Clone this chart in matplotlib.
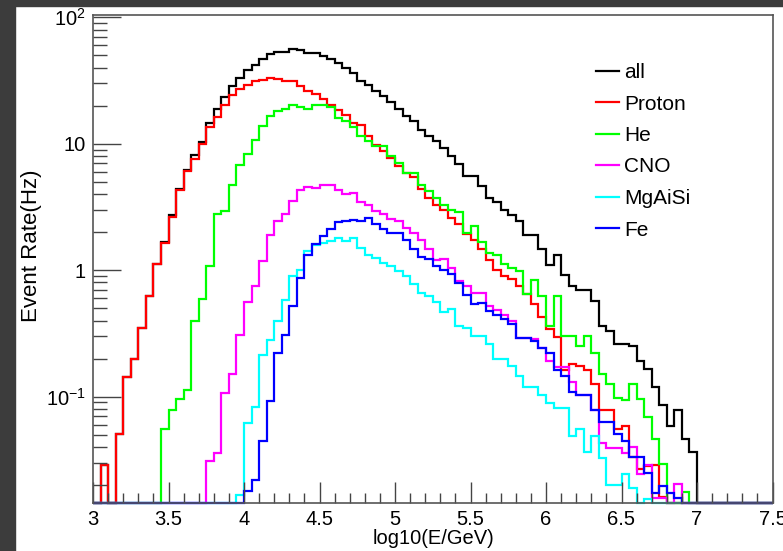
import matplotlib
matplotlib.use("Agg")
import matplotlib.pyplot as plt
import numpy as np
from matplotlib.patches import Rectangle
from matplotlib.ticker import FixedLocator, FixedFormatter, MultipleLocator, NullFormatter

plt.rcParams['font.family'] = ['Liberation Sans', 'DejaVu Sans']
plt.rcParams['mathtext.fontset'] = 'custom'
plt.rcParams['mathtext.rm'] = 'Liberation Sans'
plt.rcParams['mathtext.it'] = 'Liberation Sans'

# histogram binning: log10(E/GeV) from 3 to 7.5, 0.05 wide bins
bin_lo, bin_hi, n_bins = 3.0, 7.5, 90

# event rates (Hz) per bin
all_rate = [0, 0.029, 0, 0.051, 0.143, 0.20, 0.35, 0.62, 1.13, 1.68,
            2.71, 4.4, 6.25, 8.1, 10.3, 14.6, 18.9, 23.4, 28.8, 33.2,
            38.2, 42.3, 46.9, 51.4, 53.3, 53.3, 56.3, 54.9, 52.3, 52.3,
            49.8, 46.9, 43.6, 39.8, 36.3, 31.2, 29.4, 26.0, 24.0, 21.3,
            18.9, 16.7, 15.1, 12.9, 11.5, 10.5, 9.27, 7.97, 6.97, 5.53,
            5.53, 4.61, 3.73, 3.45, 3.02, 2.71, 2.44, 1.91, 1.91, 1.48,
            1.11, 1.33, 0.925, 0.757, 0.704, 0.704, 0.569, 0.361, 0.33, 0.259,
            0.259, 0.25, 0.193, 0.166, 0.12, 0.0867, 0.0592, 0.0778, 0.0467, 0.0364,
            0, 0, 0, 0, 0, 0, 0, 0, 0, 0]

proton = [0, 0.029, 0, 0.051, 0.143, 0.20, 0.35, 0.62, 1.13, 1.63,
          2.64, 4.29, 6.1, 7.64, 10.0, 13.5, 16.2, 20.1, 24.2, 27.2,
          29.4, 31.2, 32.2, 33.0, 32.6, 31.2, 31.2, 28.8, 26.0, 24.9,
          22.4, 20.4, 18.4, 17.0, 14.6, 14.2, 11.6, 9.86, 8.73, 7.73,
          6.64, 5.89, 5.47, 4.35, 3.73, 3.3, 3.0, 2.6, 2.3, 1.95,
          1.72, 1.46, 1.21, 1.01, 0.908, 0.855, 0.747, 0.643, 0.536, 0.428,
          0.340, 0.298, 0.164, 0.180, 0.174, 0.164, 0.125, 0.079, 0.079, 0.056,
          0.059, 0.0335, 0.0266, 0.0285, 0.029, 0.016, 0, 0, 0, 0,
          0, 0, 0, 0, 0, 0, 0, 0, 0, 0]

helium = [0, 0, 0, 0, 0, 0, 0, 0, 0, 0.056,
          0.078, 0.096, 0.112, 0.40, 0.594, 1.08, 2.79, 2.93, 4.70, 6.85,
          8.3, 10.8, 13.7, 16.5, 18.1, 18.9, 20.1, 19.5, 18.9, 20.1,
          20.1, 19.5, 16.0, 15.1, 13.6, 11.6, 10.5, 9.68, 9.68, 8.07,
          7.06, 5.89, 5.89, 4.76, 4.21, 3.73, 3.3, 3.0, 2.87, 1.98,
          2.23, 1.66, 1.36, 1.33, 1.13, 1.05, 0.98, 0.643, 0.844, 0.623,
          0.361, 0.623, 0.301, 0.301, 0.25, 0.301, 0.223, 0.15, 0.125, 0.097,
          0.095, 0.125, 0.096, 0.069, 0.0465, 0.0295, 0, 0, 0.0176, 0,
          0, 0, 0, 0, 0, 0, 0, 0, 0, 0]

cno = [0, 0, 0, 0, 0, 0, 0, 0, 0, 0,
       0, 0, 0, 0, 0, 0.031, 0.036, 0.107, 0.15, 0.31,
       0.559, 0.757, 1.19, 1.91, 2.44, 2.76, 3.51, 4.34, 4.56, 4.48,
       4.76, 4.76, 4.34, 4.04, 4.08, 3.45, 3.31, 2.93, 2.76, 2.55,
       2.44, 2.16, 1.98, 1.72, 1.46, 1.21, 1.22, 1.04, 0.82, 0.75,
       0.663, 0.663, 0.526, 0.489, 0.446, 0.395, 0.292, 0.292, 0.284, 0.244,
       0.191, 0.172, 0.172, 0.13, 0.104, 0.104, 0.079, 0.043, 0.0394, 0.0394,
       0.036, 0.040, 0.0243, 0.029, 0.0159, 0.0159, 0, 0.0205, 0, 0,
       0, 0, 0, 0, 0, 0, 0, 0, 0, 0]

mgalsi = [0, 0, 0, 0, 0, 0, 0, 0, 0, 0,
          0, 0, 0, 0, 0, 0, 0, 0, 0, 0.0166,
          0.062, 0.0826, 0.213, 0.283, 0.395, 0.587, 0.897, 1.01, 1.41, 1.57,
          1.65, 1.70, 1.80, 1.70, 1.80, 1.50, 1.31, 1.25, 1.14, 1.08,
          0.98, 0.897, 0.785, 0.663, 0.63, 0.558, 0.466, 0.496, 0.361, 0.350,
          0.301, 0.301, 0.259, 0.199, 0.199, 0.174, 0.145, 0.12, 0.12, 0.104,
          0.0895, 0.0817, 0.0817, 0.0487, 0.0557, 0.0364, 0.0487, 0.0329, 0.0199, 0.0199,
          0.0243, 0.019, 0, 0.0156, 0, 0, 0, 0, 0, 0,
          0, 0, 0, 0, 0, 0, 0, 0, 0, 0]

iron = [0, 0, 0, 0, 0, 0, 0, 0, 0, 0,
        0, 0, 0, 0, 0, 0, 0, 0, 0, 0,
        0.018, 0.0218, 0.0445, 0.092, 0.22, 0.306, 0.526, 0.871, 1.31, 1.60,
        1.86, 2.12, 2.40, 2.44, 2.48, 2.47, 2.57, 2.34, 2.12, 1.98,
        1.98, 1.75, 1.46, 1.28, 1.23, 1.08, 1.01, 0.94, 0.795, 0.64,
        0.54, 0.55, 0.474, 0.446, 0.408, 0.373, 0.292, 0.292, 0.275, 0.243,
        0.222, 0.164, 0.146, 0.109, 0.104, 0.104, 0.079, 0.063, 0.063, 0.051,
        0.045, 0.0335, 0.0335, 0.025, 0.0172, 0.0196, 0.0172, 0.0159, 0, 0,
        0, 0, 0, 0, 0, 0, 0, 0, 0, 0]

labels = ['all', 'Proton', 'He', 'CNO', 'MgAiSi', 'Fe']
colors = ['#000000', '#ff0000', '#00ff00', '#ff00ff', '#00ffff', '#0000ff']
series = [all_rate, proton, helium, cno, mgalsi, iron]

x_ticks = [3, 3.5, 4, 4.5, 5, 5.5, 6, 6.5, 7, 7.5]
x_ticklabels = ['3', '3.5', '4', '4.5', '5', '5.5', '6', '6.5', '7', '7.5']
y_ticks = [0.1, 1, 10, 100]
y_ticklabels = [r'$10^{-1}$', '1', '10', r'$10^{2}$']

y_min, y_max = 0.01436, 104.3

fig = plt.figure(figsize=(7.83, 5.51), dpi=100)
fig.patch.set_facecolor('white')
# dark screenshot border on left and top
fig.patches.append(Rectangle((0, 0), 15 / 783, 1, transform=fig.transFigure,
                             color='#3c3c3c', zorder=-10))
fig.patches.append(Rectangle((0, 1 - 6 / 551), 1, 6 / 551, transform=fig.transFigure,
                             color='#3c3c3c', zorder=-10))

ax = fig.add_axes([93 / 783, 1 - 503.3 / 551, 679.5 / 783, 488.3 / 551])
edges = np.linspace(bin_lo, bin_hi, n_bins + 1)

for vals, lab, col in zip(series, labels, colors):
    v = np.array(vals, dtype=float)
    v[v <= 0] = y_min  # ROOT draws empty bins on the frame bottom
    ax.stairs(v, edges, baseline=None, color=col, lw=1.6, label=lab,
              clip_on=False)

ax.set_yscale('log')
ax.set_xlim(bin_lo, bin_hi)
ax.set_ylim(y_min, y_max)

ax.xaxis.set_major_locator(FixedLocator(x_ticks))
ax.xaxis.set_major_formatter(FixedFormatter(x_ticklabels))
ax.xaxis.set_minor_locator(MultipleLocator(0.1))

ax.yaxis.set_major_locator(FixedLocator(y_ticks))
ax.yaxis.set_major_formatter(FixedFormatter(y_ticklabels))
minor = [m * 10.0 ** d for d in (-2, -1, 0, 1) for m in range(2, 10)]
ax.yaxis.set_minor_locator(FixedLocator(minor))
ax.yaxis.set_minor_formatter(NullFormatter())

ax.tick_params(axis='x', which='major', direction='in', length=15, width=1,
               labelsize=14.5, pad=5, color='#444444', top=False)
ax.tick_params(axis='x', which='minor', direction='in', length=7.5, width=1,
               color='#444444', top=False)
ax.tick_params(axis='y', which='major', direction='in', length=20, width=1,
               labelsize=14.5, pad=5, color='#444444', right=False)
ax.tick_params(axis='y', which='minor', direction='in', length=10, width=1,
               color='#444444', right=False)
for sp in ax.spines.values():
    sp.set_color('#555555')
    sp.set_linewidth(1.2)

fig.text(433 / 783, 1 - 539 / 551, 'log10(E/GeV)', fontsize=14.5,
         ha='center', va='center')
fig.text(31 / 783, 1 - 246 / 551, 'Event Rate(Hz)', fontsize=16,
         ha='center', va='center', rotation=90)

ax.legend(loc='upper left', bbox_to_anchor=(596 / 783, 1 - 63 / 551),
          bbox_transform=fig.transFigure, frameon=False, fontsize=15,
          handlelength=1.1, handletextpad=0.25, labelspacing=0.6,
          borderpad=0, borderaxespad=0)

fig.savefig('out.png', dpi=100, facecolor=fig.get_facecolor())
